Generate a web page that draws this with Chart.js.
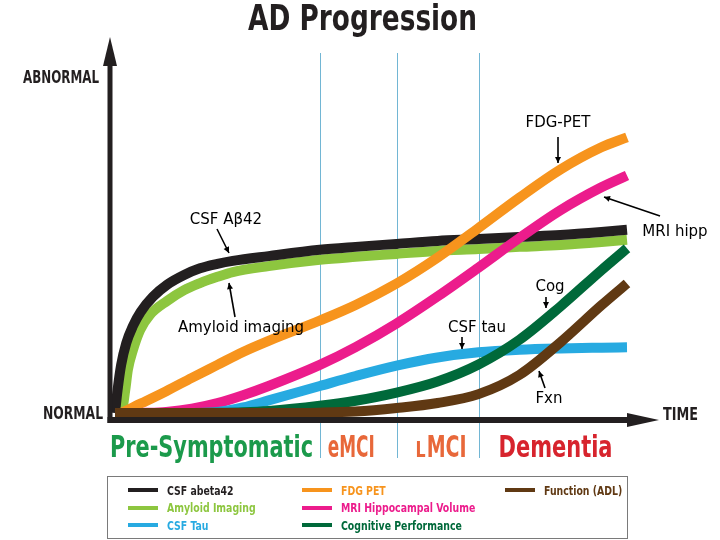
<!DOCTYPE html>
<html>
<head>
<meta charset="utf-8">
<title>AD Progression</title>
<script src="https://cdn.jsdelivr.net/npm/chart.js@4.4.1/dist/chart.umd.min.js"></script>
<style>
  html, body { margin: 0; padding: 0; background: #fff; }
  #wrap { position: relative; width: 720px; height: 540px; overflow: hidden; }
  #chart { position: absolute; left: 0; top: 0; }
  #legend { position: absolute; left: 107px; top: 476px; width: 521px; height: 63px; box-sizing: border-box;
    border: 1px solid #7a7a7a; font-family: "Liberation Sans Narrow", "DejaVu Sans Condensed", sans-serif;
    font-weight: bold; font-size: 13px; }
  .item { position: absolute; display: flex; align-items: center; white-space: nowrap; height: 16px; }
  .sw { display: inline-block; width: 30px; height: 4px; margin-right: 9px; }
  .nm { display: inline-block; transform: scaleX(0.8); transform-origin: left center; }
</style>
</head>
<body>
<div id="wrap">
  <canvas id="chart" width="720" height="540"></canvas>
  <div id="legend"></div>
</div>
<script>
// time runs 0..100 across the plot, severity 0 (normal) .. 100 (top of axis)
const times = [0, 1, 2, 4, 6, 10, 15, 20, 25, 30, 40, 47, 55, 63, 71, 79, 87, 95, 100];
const abetaTimes   = [0, 0.5, 1.2, 2.2, 3.5, 5, 7.4, 10.2, 13.5, 16.6, 20, 23, 30, 40, 47, 55, 63, 71, 79, 87, 95, 100];
const amyloidTimes = [0, 1.2, 2, 2.5, 3.5, 4.9, 6.8, 10.2, 13.5, 16.6, 20, 23, 30, 40, 47, 55, 63, 71, 79, 87, 95, 100];

const csfAbeta42      = [0, 6.2, 13, 18.9, 23.5, 27.3, 31.4, 34.7, 37.3, 39.1, 40.3, 41.1, 42.4, 44.1, 44.9, 45.7, 46.5, 47, 47.6, 48.1, 48.9, 49.5];
const amyloidImaging  = [0, 0, 6.2, 11.6, 17, 22.4, 26.5, 30.3, 33.2, 35.1, 36.8, 38.1, 39.7, 41.4, 42.2, 43, 43.8, 44.3, 44.9, 45.4, 46.2, 46.8];
const csfTau          = [0, 0, 0, 0, 0, 0, 0, 0.3, 1.5, 3.4, 7.3, 10, 12.8, 15, 16.4, 17.1, 17.45, 17.65, 17.75];
const fdgPet          = [0, 0, 0.5, 1.9, 3.2, 5.9, 9.5, 13, 16.5, 19.5, 25, 29.2, 35, 42, 50, 58.2, 65.8, 71.8, 74.5];
const mriHippocampal  = [0, 0, 0, 0, 0.05, 0.3, 1.15, 2.65, 4.8, 7.3, 13, 17.8, 24.2, 31.5, 39.3, 47.3, 54.8, 61, 64.2];
const cognitive       = [0, 0, 0, 0, 0, 0, 0, 0.05, 0.2, 0.55, 1.95, 3.3, 5.5, 8.5, 13.1, 19.8, 28.8, 38.6, 44.5];
const functionADL     = [0, 0, 0, 0, 0, 0, 0, 0, 0, 0, 0.1, 0.4, 1.35, 2.7, 5.1, 10.3, 19.1, 29.1, 35];

const seriesNames  = ["CSF abeta42", "Amyloid Imaging", "CSF Tau", "FDG PET", "MRI Hippocampal Volume", "Cognitive Performance", "Function (ADL)"];
const seriesTimes  = [abetaTimes, amyloidTimes, times, times, times, times, times];
const seriesValues = [csfAbeta42, amyloidImaging, csfTau, fdgPet, mriHippocampal, cognitive, functionADL];
const seriesColors = ["#231f20", "#8dc63f", "#27aae1", "#f7941d", "#ec1c8c", "#00693a", "#603913"];
const drawOrder    = [5, 6, 2, 4, 3, 1, 0]; // lower = drawn on top

const stageNames  = ["Pre-Symptomatic", "eMCI", "LMCI", "Dementia"];
const stageColors = ["#1b9a4b", "#e8683a", "#e8683a", "#d7242d"];
const stageBounds = [40, 55, 71];

// curve call-outs: text centre, arrow from -> to
const notes = [
  { text: "CSF A\u03b242",      x: 226, y: 220, from: [217, 229], to: [229, 253] },
  { text: "Amyloid imaging", x: 241, y: 328, from: [235, 317], to: [229, 283] },
  { text: "FDG-PET",         x: 558, y: 123, from: [558, 137], to: [558, 163] },
  { text: "MRI hipp",        x: 675, y: 232, from: [660, 216], to: [604, 197] },
  { text: "Cog",             x: 550, y: 287, from: [546, 297], to: [546, 308] },
  { text: "CSF tau",         x: 477, y: 328, from: [462, 337], to: [462, 349] },
  { text: "Fxn",             x: 549, y: 399, from: [545, 388], to: [539, 371] }
];

const narrow = '"Liberation Sans Narrow", "DejaVu Sans Condensed", sans-serif';

function arrow(ctx, from, to, head){
  const ang = Math.atan2(to[1]-from[1], to[0]-from[0]);
  ctx.beginPath(); ctx.moveTo(from[0], from[1]); ctx.lineTo(to[0], to[1]); ctx.stroke();
  ctx.beginPath();
  ctx.moveTo(to[0], to[1]);
  ctx.lineTo(to[0] - head*Math.cos(ang) + head*0.5*Math.sin(ang), to[1] - head*Math.sin(ang) - head*0.5*Math.cos(ang));
  ctx.lineTo(to[0] - head*Math.cos(ang) - head*0.5*Math.sin(ang), to[1] - head*Math.sin(ang) + head*0.5*Math.cos(ang));
  ctx.closePath(); ctx.fill();
}

function boldText(ctx, text, size, x, y, width, color, align){
  ctx.font = `bold ${size}px ${narrow}`;
  ctx.fillStyle = color;
  ctx.textAlign = align || "left";
  ctx.fillText(text, x, y, width);
}

const decor = {
  id: "decor",
  beforeDatasetsDraw(chart){
    const { ctx, scales: { x } } = chart;
    ctx.save();
    ctx.strokeStyle = "#72b6d4"; ctx.lineWidth = 1;
    stageBounds.forEach(t => {
      const px = Math.round(x.getPixelForValue(t)) + 0.5;
      ctx.beginPath(); ctx.moveTo(px, 53); ctx.lineTo(px, 458); ctx.stroke();
    });
    ctx.restore();
  },
  afterDatasetsDraw(chart){
    const { ctx, chartArea: a, scales: { x } } = chart;
    ctx.save();
    const ax = a.left - 5, ay = a.bottom + 7;
    ctx.fillStyle = "#231f20"; ctx.strokeStyle = "#231f20";
    // y axis with arrow
    ctx.fillRect(ax - 2.5, 62, 5, ay + 3 - 62);
    ctx.beginPath(); ctx.moveTo(ax, 37); ctx.lineTo(ax - 7, 66); ctx.lineTo(ax + 7, 66); ctx.closePath(); ctx.fill();
    // x axis with arrow
    ctx.fillRect(ax - 2.5, ay - 3, 630 - ax, 6);
    ctx.beginPath(); ctx.moveTo(659, ay); ctx.lineTo(627, ay - 7); ctx.lineTo(627, ay + 7); ctx.closePath(); ctx.fill();

    ctx.textBaseline = "alphabetic";
    boldText(ctx, "AD Progression", 35, 362.5, 30, 229, "#231f20", "center");
    boldText(ctx, "ABNORMAL", 18, 99, 83, 76, "#231f20", "right");
    boldText(ctx, "NORMAL", 17, 103, 419, 60, "#231f20", "right");
    boldText(ctx, "TIME", 17, 663, 420, 35, "#231f20", "left");

    // stage names under the axis
    const px = stageBounds.map(t => x.getPixelForValue(t));
    boldText(ctx, stageNames[0], 31, 110, 457, 203, stageColors[0]);
    boldText(ctx, stageNames[1], 31, px[0] + 8, 457, 47, stageColors[1]);
    ctx.font = `bold 22px ${narrow}`;
    const wl = ctx.measureText("L").width * 0.8;
    boldText(ctx, "L", 22, px[1] + 19, 457, wl, stageColors[2]);
    boldText(ctx, stageNames[2].slice(1), 31, px[1] + 19 + wl + 1, 457, 50 - wl, stageColors[2]);
    boldText(ctx, stageNames[3], 31, px[2] + 20, 457, 114, stageColors[3]);

    // call-outs
    ctx.font = '15px "DejaVu Sans", Verdana, sans-serif';
    ctx.textAlign = "center"; ctx.textBaseline = "middle";
    ctx.fillStyle = "#000"; ctx.strokeStyle = "#000"; ctx.lineWidth = 1.6;
    notes.forEach(n => {
      ctx.fillText(n.text, n.x, n.y);
      arrow(ctx, n.from, n.to, 6);
    });
    ctx.restore();
  }
};

const datasets = seriesNames.map((name, i) => ({
  label: name,
  data: seriesTimes[i].map((t, j) => ({ x: t, y: seriesValues[i][j] })),
  borderColor: seriesColors[i],
  backgroundColor: seriesColors[i],
  order: drawOrder[i],
  clip: false
}));

new Chart(document.getElementById("chart"), {
  type: "line",
  data: { datasets },
  options: {
    responsive: false,
    animation: false,
    layout: { padding: { left: 115, right: 93, top: 43, bottom: 127 } },
    scales: {
      x: { type: "linear", min: 0, max: 100, display: false },
      y: { type: "linear", min: 0, max: 100, display: false }
    },
    plugins: { legend: { display: false }, tooltip: { enabled: false } },
    elements: {
      point: { radius: 0 },
      line: { borderWidth: 10, cubicInterpolationMode: "monotone", borderCapStyle: "butt", borderJoinStyle: "round" }
    }
  },
  plugins: [decor]
});

// legend box: three columns filled top to bottom
const legendCols = [20, 194, 397];
const legend = document.getElementById("legend");
seriesNames.forEach((name, i) => {
  const col = Math.floor(i / 3), row = i % 3;
  const item = document.createElement("div");
  item.className = "item";
  item.style.left = legendCols[col] + "px";
  item.style.top = (5 + row * 17.5) + "px";
  item.style.color = seriesColors[i];
  item.innerHTML = `<span class="sw" style="background:${seriesColors[i]}"></span><span class="nm">${name}</span>`;
  legend.appendChild(item);
});
</script>
</body>
</html>
